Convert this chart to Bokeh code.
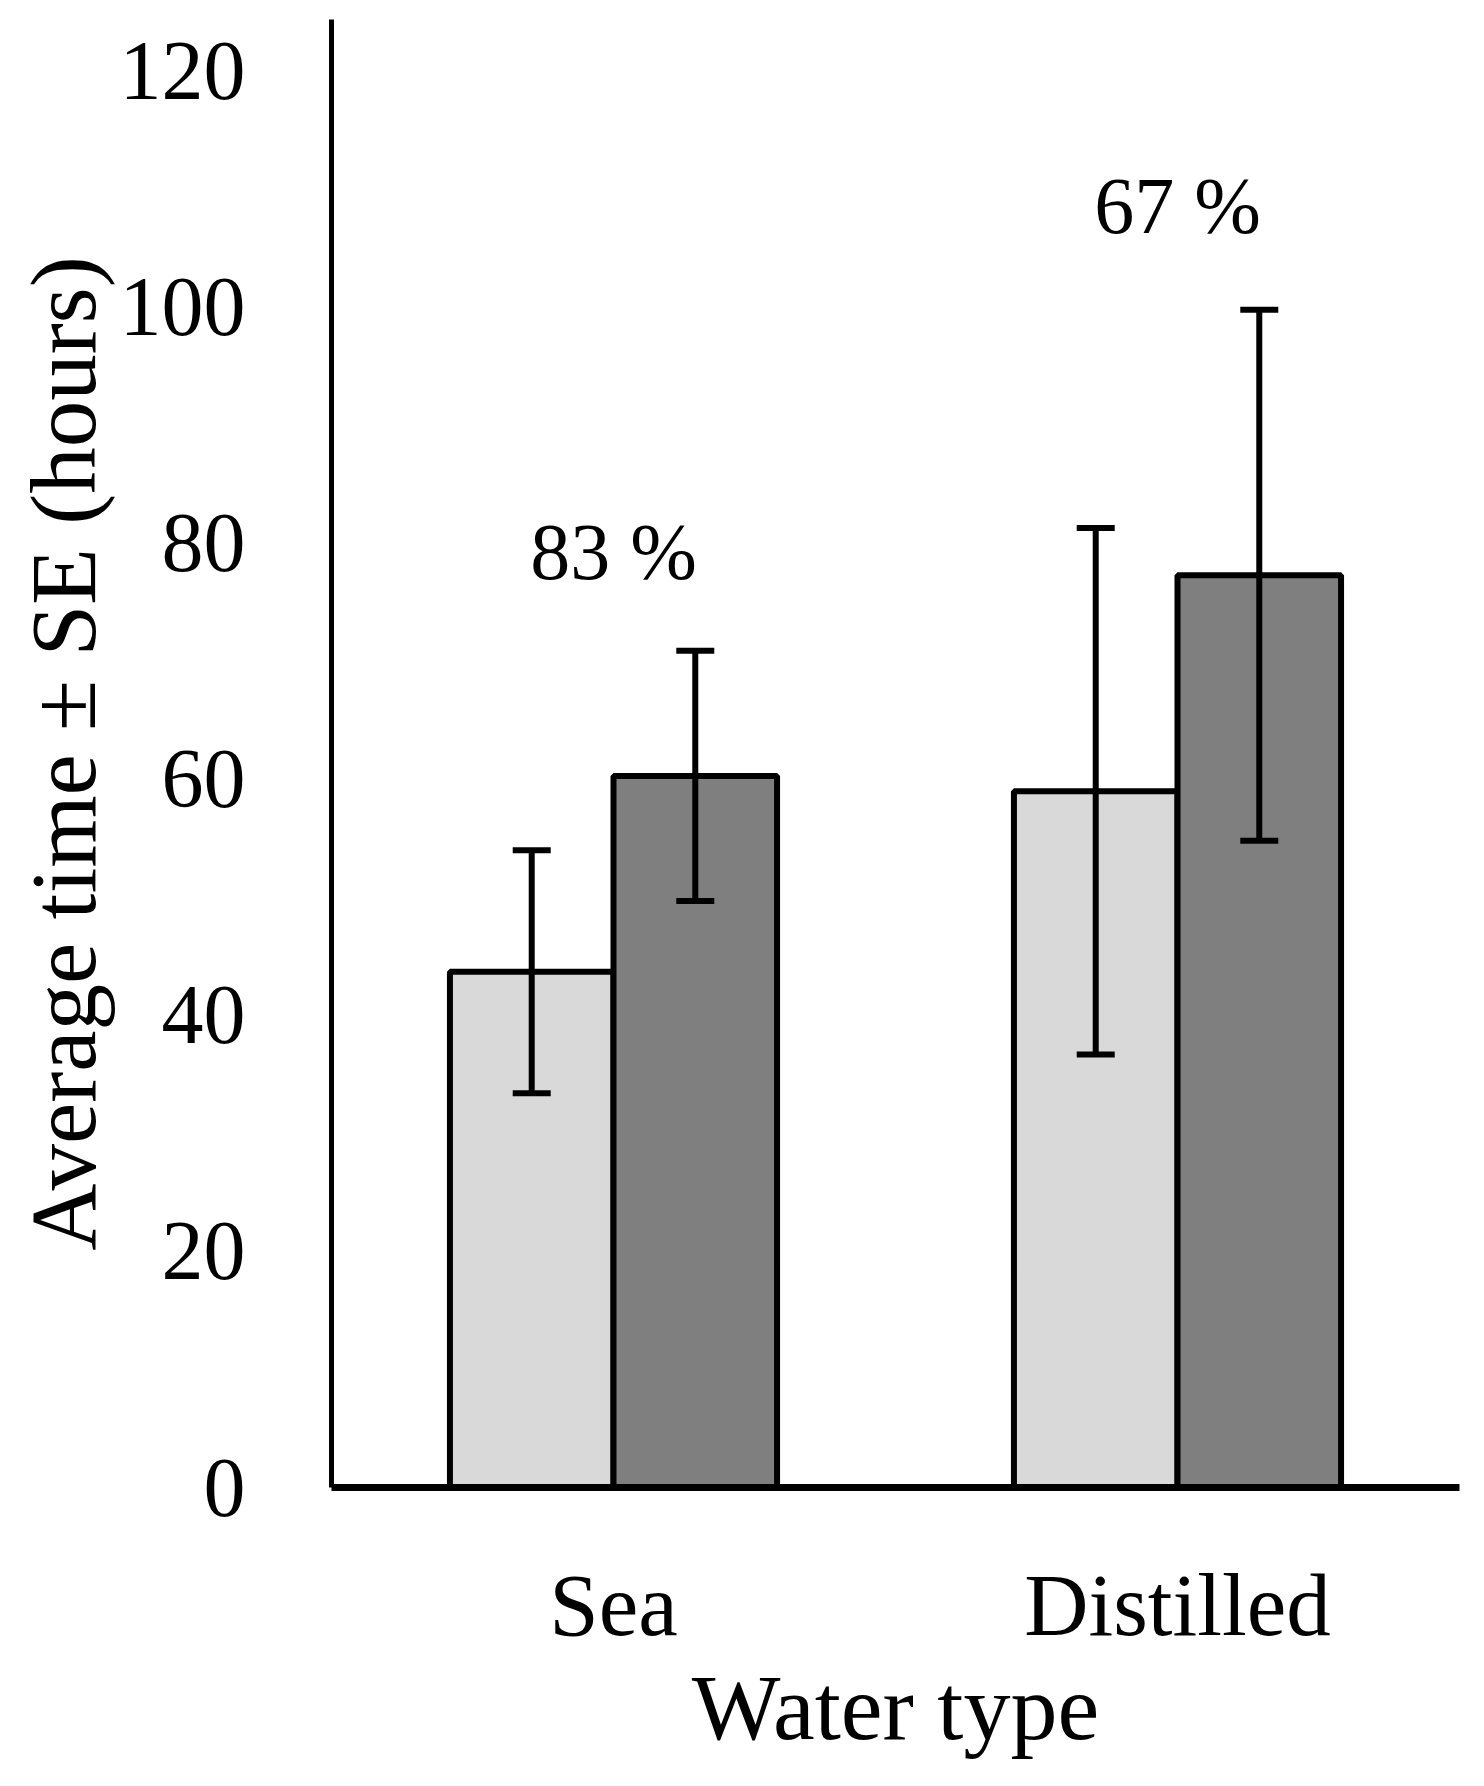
from bokeh.plotting import figure
from bokeh.models import ColumnDataSource, FactorRange, Range1d, FixedTicker, Whisker, TeeHead
from bokeh.transform import dodge
from bokeh.core.properties import value
from bokeh.embed import file_html
from bokeh.resources import INLINE

# ---- data ----
water = ["Sea", "Distilled"]
light_mean = [43.7, 59.0]
light_se = [10.3, 22.3]
dark_mean = [60.3, 77.3]
dark_se = [10.6, 22.5]
notes = ["83 %", "67 %"]
note_y = [79.3, 108.6]
y_ticks = [0, 20, 40, 60, 80, 100, 120]

FONT = "Liberation Serif"
LIGHT = "#d9d9d9"
DARK = "#7f7f7f"

src = ColumnDataSource(dict(
    water=water,
    light=light_mean,
    light_lo=[m - s for m, s in zip(light_mean, light_se)],
    light_hi=[m + s for m, s in zip(light_mean, light_se)],
    dark=dark_mean,
    dark_lo=[m - s for m, s in zip(dark_mean, dark_se)],
    dark_hi=[m + s for m, s in zip(dark_mean, dark_se)],
))
note_src = ColumnDataSource(dict(water=water, y=note_y, text=notes))

p = figure(
    width=1468, height=1770,
    x_range=FactorRange(factors=water, range_padding=0),
    y_range=Range1d(0, 124.4),
    output_backend="svg", toolbar_location=None,
    min_border_left=331, min_border_right=9, min_border_top=19, min_border_bottom=283,
)
p.outline_line_color = None
p.background_fill_color = "white"
p.border_fill_color = "white"
p.xgrid.grid_line_color = None
p.ygrid.grid_line_color = None

OFF = 0.145
W = 0.29
p.vbar(x=dodge("water", -OFF, range=p.x_range), top="light", width=W, source=src,
       fill_color=LIGHT, line_color="black", line_width=6)
p.vbar(x=dodge("water", OFF, range=p.x_range), top="dark", width=W, source=src,
       fill_color=DARK, line_color="black", line_width=6)

for off, lo, hi in [(-OFF, "light_lo", "light_hi"), (OFF, "dark_lo", "dark_hi")]:
    w = Whisker(source=src, base=dodge("water", off, range=p.x_range), lower=lo, upper=hi,
                line_color="black", line_width=6, level="overlay",
                upper_head=TeeHead(size=38, line_width=6, line_color="black"),
                lower_head=TeeHead(size=38, line_width=6, line_color="black"))
    p.add_layout(w)

p.text(x="water", y="y", text="text", source=note_src,
       text_font=value(FONT), text_font_size="80px", text_color="black",
       text_align="center", text_baseline="middle")

# y axis
ya = p.yaxis[0]
ya.ticker = FixedTicker(ticks=y_ticks)
ya.minor_tick_line_color = None
ya.major_tick_line_color = None
ya.major_tick_out = 0
ya.major_tick_in = 0
ya.major_label_standoff = 86
ya.major_label_text_font = FONT
ya.major_label_text_font_size = "84px"
ya.major_label_text_color = "black"
ya.axis_line_color = "black"
ya.axis_line_width = 5
ya.axis_label = "Average time ± SE (hours)"
ya.axis_label_text_font = FONT
ya.axis_label_text_font_size = "93px"
ya.axis_label_text_font_style = "normal"
ya.axis_label_text_color = "black"
ya.axis_label_standoff = 2

# x axis
xa = p.xaxis[0]
xa.major_tick_line_color = None
xa.minor_tick_line_color = None
xa.major_tick_out = 0
xa.major_tick_in = 0
xa.major_label_standoff = 68
xa.major_label_text_font = FONT
xa.major_label_text_font_size = "89px"
xa.major_label_text_color = "black"
xa.axis_line_color = "black"
xa.axis_line_width = 7
xa.axis_label = "Water type"
xa.axis_label_text_font = FONT
xa.axis_label_text_font_size = "94px"
xa.axis_label_text_font_style = "normal"
xa.axis_label_text_color = "black"
xa.axis_label_standoff = -2

open("out.html", "w").write(file_html(p, INLINE))
